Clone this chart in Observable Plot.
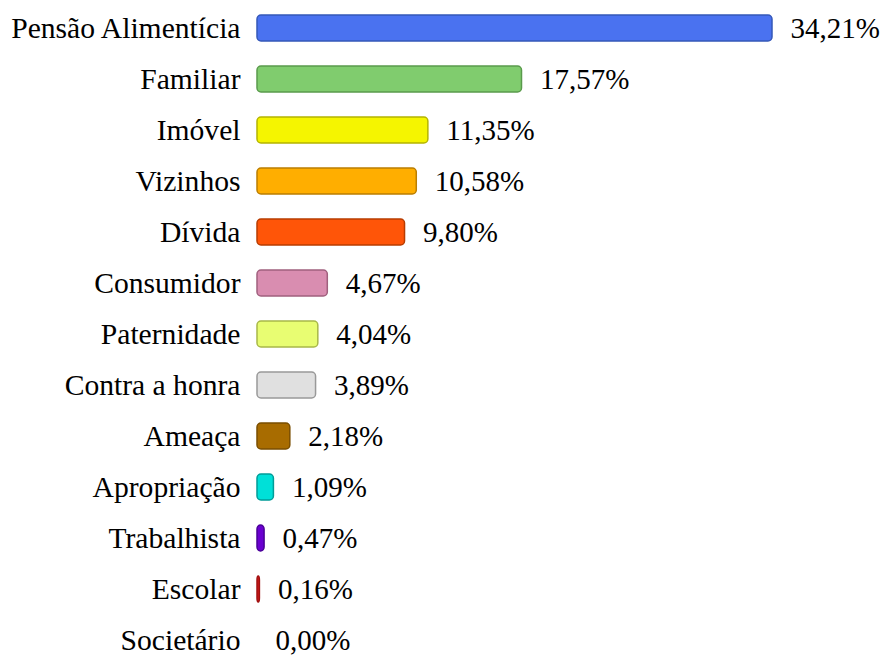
<!DOCTYPE html>
<html>
<head>
<meta charset="utf-8">
<script src="https://cdn.jsdelivr.net/npm/d3@7"></script>
<script src="https://cdn.jsdelivr.net/npm/@observablehq/plot@0.6"></script>
<style>
  html, body { margin: 0; padding: 0; background: #fff; }
</style>
</head>
<body>
<div id="chart"></div>
<script>
const categories = ["Pensão Alimentícia", "Familiar", "Imóvel", "Vizinhos", "Dívida", "Consumidor", "Paternidade", "Contra a honra", "Ameaça", "Apropriação", "Trabalhista", "Escolar", "Societário"];
const values = [34.21, 17.57, 11.35, 10.58, 9.80, 4.67, 4.04, 3.89, 2.18, 1.09, 0.47, 0.16, 0.00];
const fills = ["#4a72f0", "#80cc6e", "#f5f500", "#ffae00", "#ff5508", "#d98db0", "#e8fd72", "#e0e0e0", "#a86c00", "#00e0d8", "#6a00d0", "#d01818", "#ffffff"];
const strokes = ["#3558b8", "#5a9a4c", "#b4b400", "#bb7e00", "#b83c00", "#a0607e", "#a8b848", "#999999", "#7a4e00", "#009c98", "#4a0098", "#a01010", "#ffffff"];

const data = categories.map((c, i) => ({ category: c, value: values[i], fill: fills[i], stroke: strokes[i] }));
const fmt = v => v.toFixed(2).replace(".", ",") + "%";

const chart = Plot.plot({
  width: 885,
  height: 659,
  marginLeft: 257,
  marginRight: 113,
  marginTop: 13,
  marginBottom: 3,
  style: { fontFamily: "'Liberation Serif', 'Times New Roman', serif", fontSize: "29px", color: "#000", background: "#fff" },
  x: { domain: [0, 34.21], axis: null },
  y: { domain: categories, paddingInner: 0.49, paddingOuter: 0, label: null },
  marks: [
    Plot.barX(data.filter(d => d.value > 0), {
      x: "value", y: "category",
      fill: d => d.fill, stroke: d => d.stroke, strokeWidth: 1.5, rx: 4
    }),
    Plot.text(data, {
      x: "value", y: "category", text: d => fmt(d.value),
      textAnchor: "start", dx: 18, fill: "#000", fontSize: 29
    }),
    Plot.axisY({ tickSize: 0, tickPadding: 17, label: null, fill: "#000", fontSize: 29.6 })
  ]
});
document.getElementById("chart").appendChild(chart);
</script>
</body>
</html>
